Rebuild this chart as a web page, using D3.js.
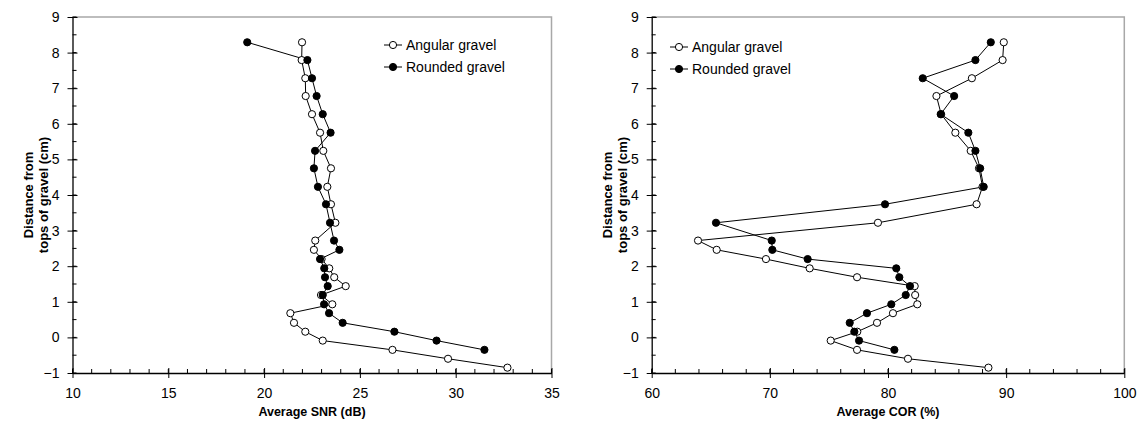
<!DOCTYPE html>
<html>
<head>
<meta charset="utf-8">
<script src="https://cdn.jsdelivr.net/npm/d3@7"></script>
<style>
  html, body { margin: 0; padding: 0; background: #fff; }
  svg { display: block; font-family: Arial, "Liberation Sans", sans-serif; }
</style>
</head>
<body>
<svg id="chart" width="1139" height="430"></svg>
<script>
// Depth below/above gravel tops (cm) at each measuring position
const depthAngular = [8.29, 7.79, 7.28, 6.78, 6.27, 5.75, 5.24, 4.75, 4.23, 3.74, 3.22, 2.72, 2.46, 2.2, 1.94, 1.69, 1.44, 1.19, 0.93, 0.68, 0.41, 0.16, -0.09, -0.35, -0.6, -0.85];
const depthRounded = [8.29, 7.79, 7.28, 6.78, 6.27, 5.75, 5.24, 4.75, 4.23, 3.74, 3.22, 2.72, 2.46, 2.2, 1.94, 1.69, 1.44, 1.19, 0.93, 0.68, 0.41, 0.16, -0.09, -0.35];

// Average SNR (dB)
const snrAngular = [21.98, 21.96, 22.15, 22.17, 22.5, 22.92, 23.09, 23.49, 23.3, 23.49, 23.72, 22.67, 22.6, 23.0, 23.4, 23.66, 24.26, 22.97, 23.56, 21.37, 21.56, 22.15, 23.06, 26.7, 29.6, 32.7];
const snrRounded = [19.12, 22.26, 22.5, 22.74, 23.06, 23.47, 22.66, 22.6, 22.81, 23.23, 23.44, 23.65, 23.93, 22.92, 23.14, 23.18, 23.32, 23.06, 23.13, 23.39, 24.1, 26.8, 29.0, 31.5];

// Average COR (%)
const corAngular = [89.8, 89.7, 87.1, 84.1, 84.5, 85.7, 87.0, 87.7, 88.0, 87.5, 79.15, 63.92, 65.5, 69.67, 73.37, 77.38, 82.26, 82.3, 82.48, 80.42, 79.07, 77.4, 75.15, 77.38, 81.69, 88.5];
const corRounded = [88.7, 87.4, 82.94, 85.6, 84.46, 86.8, 87.4, 87.8, 88.1, 79.75, 65.44, 70.16, 70.21, 73.2, 80.7, 80.96, 81.86, 81.5, 80.28, 78.22, 76.76, 77.15, 77.55, 80.54];

const seriesNames = ["Angular gravel", "Rounded gravel"];
const yTicks = [-1, 0, 1, 2, 3, 4, 5, 6, 7, 8, 9];
const snrTicks = [10, 15, 20, 25, 30, 35];
const corTicks = [60, 70, 80, 90, 100];

const svg = d3.select("#chart");
const plotTop = 17, plotBottom = 373;

function panel(opts) {
  const x = d3.scaleLinear().domain(opts.xDomain).range([opts.left, opts.right]);
  const y = d3.scaleLinear().domain([-1, 9]).range([plotBottom, plotTop]);
  const g = svg.append("g");

  // light frame on top and right
  g.append("path")
    .attr("d", `M${opts.left},${plotTop}H${opts.right}V${plotBottom}`)
    .attr("fill", "none").attr("stroke", "#a8a8a8").attr("stroke-width", 1.5);

  // minor ticks (inside)
  d3.range(opts.xDomain[0], opts.xDomain[1] + 0.001, opts.xMinor).forEach(v => {
    g.append("line").attr("x1", x(v)).attr("x2", x(v)).attr("y1", plotBottom).attr("y2", plotBottom - 4)
      .attr("stroke", "#000");
  });
  d3.range(-1, 9.001, 0.5).forEach(v => {
    g.append("line").attr("x1", opts.left).attr("x2", opts.left + 4).attr("y1", y(v)).attr("y2", y(v))
      .attr("stroke", "#000");
  });

  // x axis
  const xa = g.append("g").attr("transform", `translate(0,${plotBottom})`)
    .call(d3.axisBottom(x).tickValues(opts.xTicks).tickSize(5).tickSizeOuter(0).tickPadding(10));
  xa.select(".domain").attr("stroke", "#000").attr("stroke-width", 1.3);
  xa.selectAll(".tick line").attr("y1", -5).attr("y2", 5).attr("stroke", "#000");
  xa.selectAll("text").attr("font-size", 14).attr("fill", "#000").attr("font-family", "Arial, 'Liberation Sans', sans-serif");

  // y axis
  const ya = g.append("g").attr("transform", `translate(${opts.left},0)`)
    .call(d3.axisLeft(y).tickValues(yTicks).tickSize(5).tickSizeOuter(0).tickPadding(8));
  ya.select(".domain").attr("stroke", "#000").attr("stroke-width", 1.3);
  ya.selectAll(".tick line").attr("x1", -5).attr("x2", 5).attr("stroke", "#000");
  ya.selectAll("text").attr("font-size", 14).attr("fill", "#000").attr("font-family", "Arial, 'Liberation Sans', sans-serif");

  // axis titles
  g.append("text").attr("x", (opts.left + opts.right) / 2).attr("y", 416)
    .attr("text-anchor", "middle").attr("font-size", 12.5).attr("font-weight", "bold")
    .text(opts.xTitle);
  const yt = g.append("text").attr("transform", `translate(${opts.left - 40},${(plotTop + plotBottom) / 2}) rotate(-90)`)
    .attr("text-anchor", "middle").attr("font-size", 13).attr("font-weight", "bold");
  yt.append("tspan").attr("x", 0).attr("dy", 0).text("Distance from");
  yt.append("tspan").attr("x", 0).attr("dy", 15).text("tops of gravel (cm)");

  const line = d3.line().x(d => x(d[0])).y(d => y(d[1]));
  const sets = [
    { vals: opts.angular, depth: depthAngular, fill: "#fff" },
    { vals: opts.rounded, depth: depthRounded, fill: "#000" }
  ];
  sets.forEach(s => {
    const pts = s.vals.map((v, i) => [v, s.depth[i]]);
    g.append("path").datum(pts).attr("d", line).attr("fill", "none").attr("stroke", "#000").attr("stroke-width", 1);
  });
  sets.forEach(s => {
    const pts = s.vals.map((v, i) => [v, s.depth[i]]);
    g.selectAll(null).data(pts).enter().append("circle")
      .attr("cx", d => x(d[0])).attr("cy", d => y(d[1])).attr("r", 3.6)
      .attr("fill", s.fill).attr("stroke", "#000").attr("stroke-width", 1);
  });

  // legend
  const lg = g.append("g").attr("transform", `translate(${opts.legendX},${opts.legendY})`);
  seriesNames.forEach((name, i) => {
    const row = lg.append("g").attr("transform", `translate(0,${i * 22})`);
    row.append("line").attr("x1", 0).attr("x2", 18).attr("stroke", "#000");
    row.append("circle").attr("cx", 9).attr("r", 3.6).attr("fill", i === 0 ? "#fff" : "#000").attr("stroke", "#000");
    row.append("text").attr("x", 22).attr("dy", "0.35em").attr("font-size", 14).text(name);
  });
}

panel({
  left: 72.5, right: 551.5, xDomain: [10, 35], xTicks: snrTicks, xMinor: 1,
  xTitle: "Average SNR (dB)", angular: snrAngular, rounded: snrRounded,
  legendX: 384, legendY: 45
});
panel({
  left: 651.7, right: 1124.3, xDomain: [60, 100], xTicks: corTicks, xMinor: 2,
  xTitle: "Average COR (%)", angular: corAngular, rounded: corRounded,
  legendX: 670, legendY: 47
});
</script>
</body>
</html>
